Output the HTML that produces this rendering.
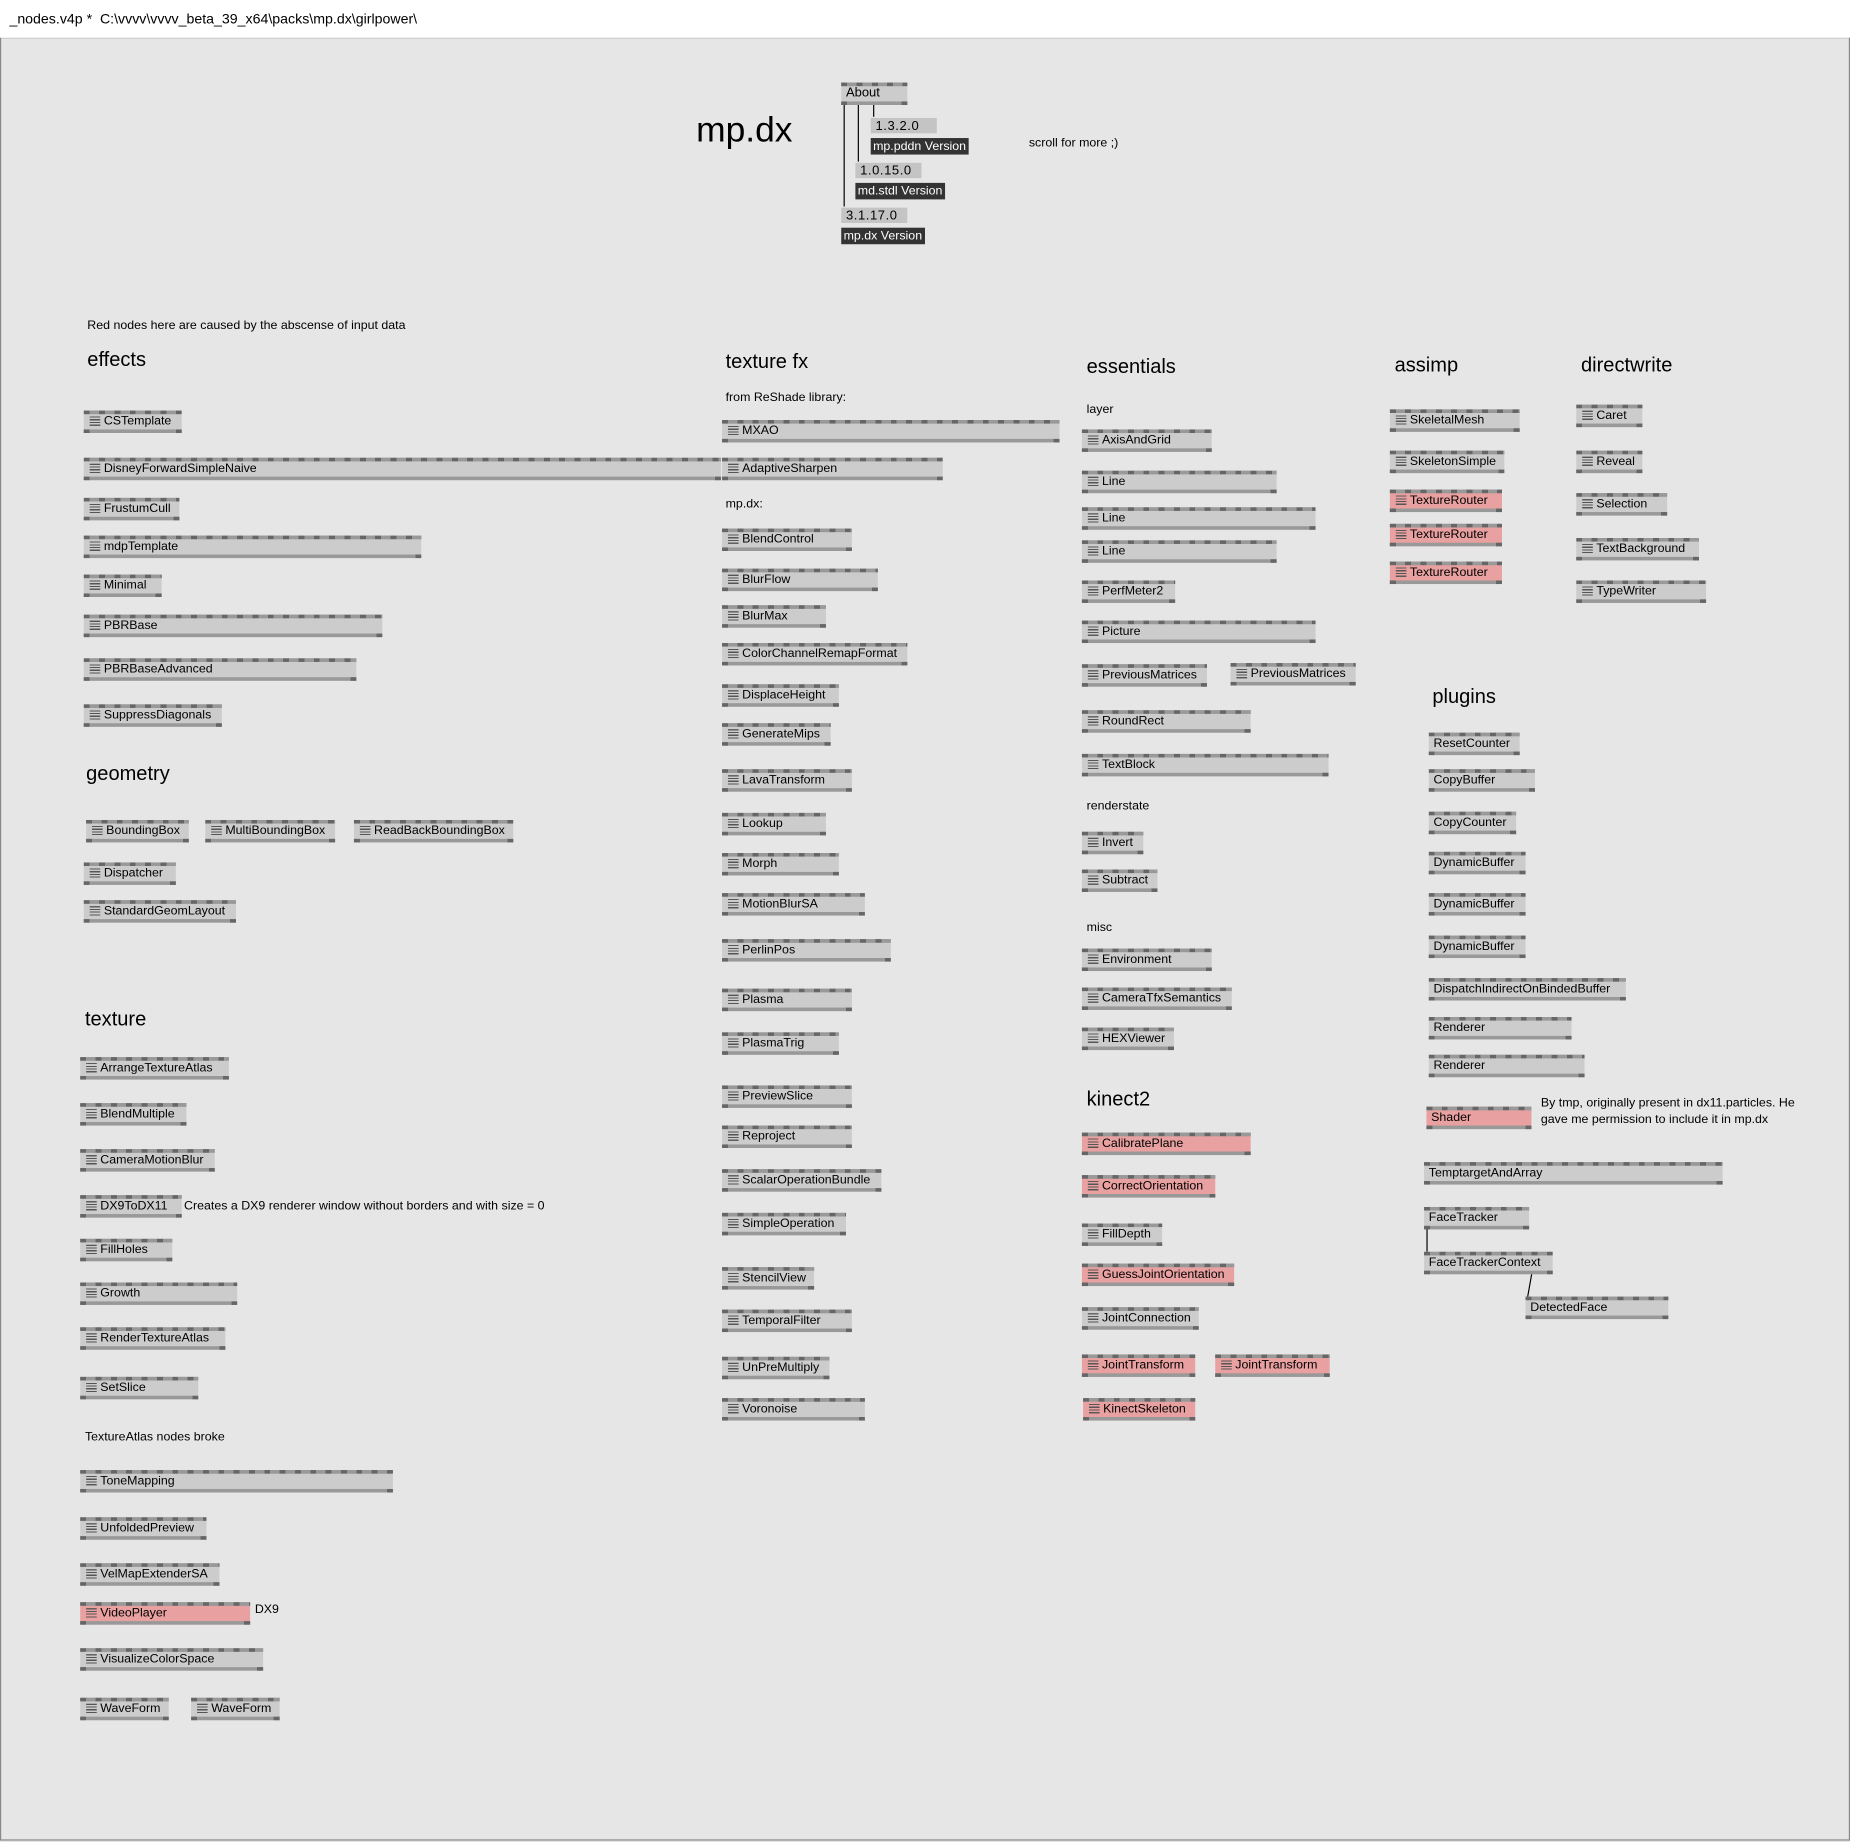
<!DOCTYPE html>
<html><head><meta charset="utf-8">
<style>
html,body{margin:0;padding:0;width:1850px;height:1842px;overflow:hidden;background:#e6e6e6;font-family:"Liberation Sans",sans-serif;}
#w{position:absolute;left:0;top:0;width:1568px;height:1561px;transform:scale(1.17985);transform-origin:0 0;}
#tb{position:absolute;left:0;top:0;width:1568px;height:32px;background:#fff;border-bottom:1px solid #ccc;font-size:12px;line-height:32px;color:#000;}
#tb span{margin-left:8px}
#fr{position:absolute;left:0;top:32px;width:1566px;height:1527px;border:1px solid #888;border-top:none}
.n{position:absolute;height:13px;background:#cccccc;border-top:3px solid #999;border-bottom:3px solid #999;font-size:10.5px;line-height:13px;color:#000;white-space:nowrap;}
.n:before{content:"";position:absolute;left:0;right:0;top:-3px;height:3px;background:repeating-linear-gradient(90deg,#666 0 5px,#999 5px 13px);}
.n:after{content:"";position:absolute;left:0;right:0;bottom:-3px;height:3px;background:linear-gradient(90deg,#666 0 5px,transparent 5px calc(100% - 5px),#666 calc(100% - 5px));}
.n.r{background:#e8a0a0}
.n b{font-weight:normal;padding-left:4px}
.n i{display:inline-block;width:9px;height:8px;margin:0 3px 0 5px;vertical-align:-1px;background:repeating-linear-gradient(180deg,#555 0 1px,transparent 1px 2.3px);}
.n i+b{padding-left:0}
.t{position:absolute;font-size:10.5px;color:#000;white-space:nowrap}
.h{position:absolute;font-size:17px;color:#000;white-space:nowrap}
.v{position:absolute;height:13px;background:#c4c4c4;font-size:11px;line-height:14px;padding-left:4px;letter-spacing:.5px}
.vl{position:absolute;height:14px;background:#333;color:#fff;font-size:10.5px;line-height:14px;padding:0 2px}
.ln{position:absolute;background:#000;width:1px}
</style></head><body>
<div id="w">
<div id="tb"><span>_nodes.v4p *&nbsp; C:\vvvv\vvvv_beta_39_x64\packs\mp.dx\girlpower\</span></div>
<div id="fr"></div>

<div class="h" style="left:590px;top:94px;font-size:30px">mp.dx</div>
<div class="n" style="left:713px;top:70px;width:56px;font-size:11px"><b>About</b></div>
<div class="ln" style="left:715px;top:89px;height:86px"></div>
<div class="ln" style="left:727px;top:89px;height:48px"></div>
<div class="ln" style="left:740px;top:89px;height:10px"></div>
<div class="v" style="left:738px;top:100px;width:52px">1.3.2.0</div>
<div class="vl" style="left:738px;top:117px">mp.pddn Version</div>
<div class="v" style="left:725px;top:138px;width:52px">1.0.15.0</div>
<div class="vl" style="left:725px;top:155px">md.stdl Version</div>
<div class="v" style="left:713px;top:176px;width:52px">3.1.17.0</div>
<div class="vl" style="left:713px;top:193px">mp.dx Version</div>
<div class="t" style="left:872px;top:115px">scroll for more ;)</div>

<div class="t" style="left:74px;top:270px">Red nodes here are caused by the abscense of input data</div>
<div class="h" style="left:74px;top:295px">effects</div>
<div class="n" style="left:71px;top:348px;width:83px"><i></i><b>CSTemplate</b></div>
<div class="n" style="left:71px;top:388px;width:540px"><i></i><b>DisneyForwardSimpleNaive</b></div>
<div class="n" style="left:71px;top:422px;width:81px"><i></i><b>FrustumCull</b></div>
<div class="n" style="left:71px;top:454px;width:286px"><i></i><b>mdpTemplate</b></div>
<div class="n" style="left:71px;top:487px;width:66px"><i></i><b>Minimal</b></div>
<div class="n" style="left:71px;top:521px;width:253px"><i></i><b>PBRBase</b></div>
<div class="n" style="left:71px;top:558px;width:231px"><i></i><b>PBRBaseAdvanced</b></div>
<div class="n" style="left:71px;top:597px;width:117px"><i></i><b>SuppressDiagonals</b></div>
<div class="h" style="left:73px;top:646px">geometry</div>
<div class="n" style="left:73px;top:695px;width:87px"><i></i><b>BoundingBox</b></div>
<div class="n" style="left:174px;top:695px;width:110px"><i></i><b>MultiBoundingBox</b></div>
<div class="n" style="left:300px;top:695px;width:135px"><i></i><b>ReadBackBoundingBox</b></div>
<div class="n" style="left:71px;top:731px;width:78px"><i></i><b>Dispatcher</b></div>
<div class="n" style="left:71px;top:763px;width:129px"><i></i><b>StandardGeomLayout</b></div>
<div class="h" style="left:72px;top:854px">texture</div>
<div class="n" style="left:68px;top:896px;width:126px"><i></i><b>ArrangeTextureAtlas</b></div>
<div class="n" style="left:68px;top:935px;width:90px"><i></i><b>BlendMultiple</b></div>
<div class="n" style="left:68px;top:974px;width:114px"><i></i><b>CameraMotionBlur</b></div>
<div class="n" style="left:68px;top:1013px;width:86px"><i></i><b>DX9ToDX11</b></div>
<div class="t" style="left:156px;top:1016px">Creates a DX9 renderer window without borders and with size = 0</div>
<div class="n" style="left:68px;top:1050px;width:78px"><i></i><b>FillHoles</b></div>
<div class="n" style="left:68px;top:1087px;width:133px"><i></i><b>Growth</b></div>
<div class="n" style="left:68px;top:1125px;width:123px"><i></i><b>RenderTextureAtlas</b></div>
<div class="n" style="left:68px;top:1167px;width:100px"><i></i><b>SetSlice</b></div>
<div class="t" style="left:72px;top:1212px">TextureAtlas nodes broke</div>
<div class="n" style="left:68px;top:1246px;width:265px"><i></i><b>ToneMapping</b></div>
<div class="n" style="left:68px;top:1286px;width:107px"><i></i><b>UnfoldedPreview</b></div>
<div class="n" style="left:68px;top:1325px;width:118px"><i></i><b>VelMapExtenderSA</b></div>
<div class="n r" style="left:68px;top:1358px;width:144px"><i></i><b>VideoPlayer</b></div>
<div class="t" style="left:216px;top:1358px">DX9</div>
<div class="n" style="left:68px;top:1397px;width:155px"><i></i><b>VisualizeColorSpace</b></div>
<div class="n" style="left:68px;top:1439px;width:75px"><i></i><b>WaveForm</b></div>
<div class="n" style="left:162px;top:1439px;width:75px"><i></i><b>WaveForm</b></div>

<div class="h" style="left:615px;top:297px">texture fx</div>
<div class="t" style="left:615px;top:331px">from ReShade library:</div>
<div class="n" style="left:612px;top:356px;width:286px"><i></i><b>MXAO</b></div>
<div class="n" style="left:612px;top:388px;width:187px"><i></i><b>AdaptiveSharpen</b></div>
<div class="t" style="left:615px;top:421px">mp.dx:</div>
<div class="n" style="left:612px;top:448px;width:110px"><i></i><b>BlendControl</b></div>
<div class="n" style="left:612px;top:482px;width:132px"><i></i><b>BlurFlow</b></div>
<div class="n" style="left:612px;top:513px;width:88px"><i></i><b>BlurMax</b></div>
<div class="n" style="left:612px;top:545px;width:157px"><i></i><b>ColorChannelRemapFormat</b></div>
<div class="n" style="left:612px;top:580px;width:99px"><i></i><b>DisplaceHeight</b></div>
<div class="n" style="left:612px;top:613px;width:92px"><i></i><b>GenerateMips</b></div>
<div class="n" style="left:612px;top:652px;width:110px"><i></i><b>LavaTransform</b></div>
<div class="n" style="left:612px;top:689px;width:88px"><i></i><b>Lookup</b></div>
<div class="n" style="left:612px;top:723px;width:99px"><i></i><b>Morph</b></div>
<div class="n" style="left:612px;top:757px;width:121px"><i></i><b>MotionBlurSA</b></div>
<div class="n" style="left:612px;top:796px;width:143px"><i></i><b>PerlinPos</b></div>
<div class="n" style="left:612px;top:838px;width:110px"><i></i><b>Plasma</b></div>
<div class="n" style="left:612px;top:875px;width:99px"><i></i><b>PlasmaTrig</b></div>
<div class="n" style="left:612px;top:920px;width:110px"><i></i><b>PreviewSlice</b></div>
<div class="n" style="left:612px;top:954px;width:110px"><i></i><b>Reproject</b></div>
<div class="n" style="left:612px;top:991px;width:135px"><i></i><b>ScalarOperationBundle</b></div>
<div class="n" style="left:612px;top:1028px;width:105px"><i></i><b>SimpleOperation</b></div>
<div class="n" style="left:612px;top:1074px;width:78px"><i></i><b>StencilView</b></div>
<div class="n" style="left:612px;top:1110px;width:110px"><i></i><b>TemporalFilter</b></div>
<div class="n" style="left:612px;top:1150px;width:91px"><i></i><b>UnPreMultiply</b></div>
<div class="n" style="left:612px;top:1185px;width:121px"><i></i><b>Voronoise</b></div>

<div class="h" style="left:921px;top:301px">essentials</div>
<div class="t" style="left:921px;top:341px">layer</div>
<div class="n" style="left:917px;top:364px;width:110px"><i></i><b>AxisAndGrid</b></div>
<div class="n" style="left:917px;top:399px;width:165px"><i></i><b>Line</b></div>
<div class="n" style="left:917px;top:430px;width:198px"><i></i><b>Line</b></div>
<div class="n" style="left:917px;top:458px;width:165px"><i></i><b>Line</b></div>
<div class="n" style="left:917px;top:492px;width:79px"><i></i><b>PerfMeter2</b></div>
<div class="n" style="left:917px;top:526px;width:198px"><i></i><b>Picture</b></div>
<div class="n" style="left:917px;top:563px;width:106px"><i></i><b>PreviousMatrices</b></div>
<div class="n" style="left:1043px;top:562px;width:106px"><i></i><b>PreviousMatrices</b></div>
<div class="n" style="left:917px;top:602px;width:143px"><i></i><b>RoundRect</b></div>
<div class="n" style="left:917px;top:639px;width:209px"><i></i><b>TextBlock</b></div>
<div class="t" style="left:921px;top:677px">renderstate</div>
<div class="n" style="left:917px;top:705px;width:52px"><i></i><b>Invert</b></div>
<div class="n" style="left:917px;top:737px;width:64px"><i></i><b>Subtract</b></div>
<div class="t" style="left:921px;top:780px">misc</div>
<div class="n" style="left:917px;top:804px;width:110px"><i></i><b>Environment</b></div>
<div class="n" style="left:917px;top:837px;width:127px"><i></i><b>CameraTfxSemantics</b></div>
<div class="n" style="left:917px;top:871px;width:78px"><i></i><b>HEXViewer</b></div>
<div class="h" style="left:921px;top:922px">kinect2</div>
<div class="n r" style="left:917px;top:960px;width:143px"><i></i><b>CalibratePlane</b></div>
<div class="n r" style="left:917px;top:996px;width:113px"><i></i><b>CorrectOrientation</b></div>
<div class="n" style="left:917px;top:1037px;width:68px"><i></i><b>FillDepth</b></div>
<div class="n r" style="left:917px;top:1071px;width:129px"><i></i><b>GuessJointOrientation</b></div>
<div class="n" style="left:917px;top:1108px;width:99px"><i></i><b>JointConnection</b></div>
<div class="n r" style="left:917px;top:1148px;width:96px"><i></i><b>JointTransform</b></div>
<div class="n r" style="left:1030px;top:1148px;width:97px"><i></i><b>JointTransform</b></div>
<div class="n r" style="left:918px;top:1185px;width:95px"><i></i><b>KinectSkeleton</b></div>

<div class="h" style="left:1182px;top:300px">assimp</div>
<div class="n" style="left:1178px;top:347px;width:110px"><i></i><b>SkeletalMesh</b></div>
<div class="n" style="left:1178px;top:382px;width:97px"><i></i><b>SkeletonSimple</b></div>
<div class="n r" style="left:1178px;top:415px;width:95px"><i></i><b>TextureRouter</b></div>
<div class="n r" style="left:1178px;top:444px;width:95px"><i></i><b>TextureRouter</b></div>
<div class="n r" style="left:1178px;top:476px;width:95px"><i></i><b>TextureRouter</b></div>

<div class="h" style="left:1340px;top:300px">directwrite</div>
<div class="n" style="left:1336px;top:343px;width:56px"><i></i><b>Caret</b></div>
<div class="n" style="left:1336px;top:382px;width:56px"><i></i><b>Reveal</b></div>
<div class="n" style="left:1336px;top:418px;width:77px"><i></i><b>Selection</b></div>
<div class="n" style="left:1336px;top:456px;width:104px"><i></i><b>TextBackground</b></div>
<div class="n" style="left:1336px;top:492px;width:110px"><i></i><b>TypeWriter</b></div>

<div class="h" style="left:1214px;top:581px">plugins</div>
<div class="n" style="left:1211px;top:621px;width:77px"><b>ResetCounter</b></div>
<div class="n" style="left:1211px;top:652px;width:90px"><b>CopyBuffer</b></div>
<div class="n" style="left:1211px;top:688px;width:74px"><b>CopyCounter</b></div>
<div class="n" style="left:1211px;top:722px;width:82px"><b>DynamicBuffer</b></div>
<div class="n" style="left:1211px;top:757px;width:82px"><b>DynamicBuffer</b></div>
<div class="n" style="left:1211px;top:793px;width:82px"><b>DynamicBuffer</b></div>
<div class="n" style="left:1211px;top:829px;width:167px"><b>DispatchIndirectOnBindedBuffer</b></div>
<div class="n" style="left:1211px;top:862px;width:121px"><b>Renderer</b></div>
<div class="n" style="left:1211px;top:894px;width:132px"><b>Renderer</b></div>
<div class="n r" style="left:1209px;top:938px;width:89px"><b>Shader</b></div>
<div class="t" style="left:1306px;top:929px;line-height:13.5px">By tmp, originally present in dx11.particles. He<br>gave me permission to include it in mp.dx</div>
<div class="n" style="left:1207px;top:985px;width:253px"><b>TemptargetAndArray</b></div>
<div class="n" style="left:1207px;top:1023px;width:89px"><b>FaceTracker</b></div>
<div class="ln" style="left:1209px;top:1042px;height:19px"></div>
<div class="n" style="left:1207px;top:1061px;width:109px"><b>FaceTrackerContext</b></div>
<div class="ln" style="left:1296px;top:1080px;height:19px;transform:skewX(-10deg)"></div>
<div class="n" style="left:1293px;top:1099px;width:121px"><b>DetectedFace</b></div>
</div>
</body></html>
